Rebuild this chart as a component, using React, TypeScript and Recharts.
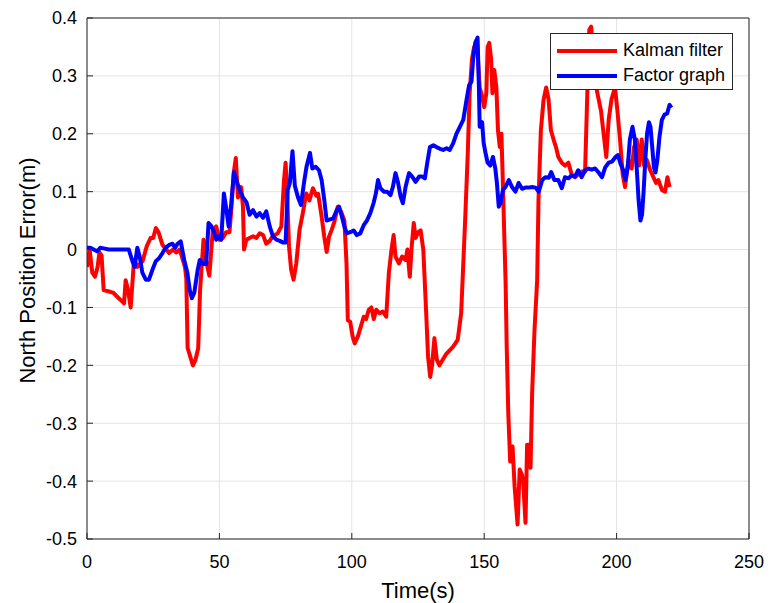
import React from "react"
import {
  LineChart,
  Line,
  XAxis,
  YAxis,
  CartesianGrid,
} from "recharts"

// Kalman filter north error, sampled off the plot (time in s, error in m)
const kalmanTime = [
  0, 1, 2, 3, 4, 4.7, 5.5, 6.3, 8, 10, 11.5, 12.7, 14, 14.6, 15.5, 16.5, 17.5, 17.8, 19, 21,
  22.5, 24, 25, 26, 27, 28.5, 30, 31, 32.5, 33.7, 35, 37, 37.5, 38, 39, 40, 41, 42, 42.7, 44,
  45, 46.2, 47.5, 48.8, 50, 51.3, 52.5, 53.8, 54.4, 55.4, 56.2, 57, 57.6, 58.2, 58.9, 59.3, 60.2, 61.4, 62.7, 64,
  65.2, 66.5, 67.7, 69, 70.2, 72, 73.4, 74.4, 75, 75.6, 76.3, 77.1, 78, 79, 80.3, 81.5, 82.8, 84, 85.3, 86.6,
  87.3, 88.6, 89.6, 90.5, 91.4, 92.4, 93.4, 94.7, 96, 97.2, 98, 98.5, 99.4, 100.3, 101.1, 102.3, 103.6, 104.5, 105.4, 106.4,
  107.4, 108.3, 109.2, 110.5, 111.7, 113, 114, 115, 115.8, 116.5, 117.8, 119, 120.3, 121, 121.9, 122.6, 123.4, 124.1, 125.1, 126,
  127, 128, 128.8, 129.6, 130.3, 131.2, 132.1, 133.1, 135.7, 138.2, 140, 141.3, 142.8, 143.8, 144.5, 145.4, 146.2, 147.3, 148.3, 149.2,
  150, 150.8, 151.3, 151.9, 152.6, 153.1, 153.8, 154.6, 155.2, 155.9, 156.5, 157.1, 157.6, 158.1, 158.5, 159.1, 159.8, 160.7, 161.5, 162.6,
  163.4, 164.3, 164.7, 165.6, 166.2, 166.8, 167.5, 168.1, 169, 170, 170.5, 171.4, 172.4, 173.4, 174.3, 175.2, 176.2, 177.1, 178, 179.3,
  180.5, 181.8, 183, 184.3, 185.5, 186.8, 188.1, 189, 189.7, 190.4, 191.3, 192.3, 193.2, 194.1, 195.1, 196.1, 197, 198.1, 199.4, 200.3,
  201.3, 202.3, 203.2, 204.5, 205.7, 206.6, 207.6, 208.5, 209.5, 210.4, 211.4, 212.7, 213.9, 214.9, 215.8, 217.1, 218.3, 219.2, 220,
]
const kalmanError = [
  -0.03, 0.0, -0.04, -0.047, -0.03, -0.005, -0.01, -0.07, -0.072, -0.075, -0.082, -0.087, -0.093, -0.053, -0.07, -0.1, -0.035, -0.018, -0.03, -0.02,
  0.005, 0.02, 0.02, 0.037, 0.03, 0.008, 0.0, -0.006, 0.0, -0.005, 0.0, -0.03, -0.05, -0.17, -0.185, -0.2, -0.19, -0.17, -0.07, 0.017,
  -0.02, -0.045, 0.033, 0.04, 0.017, 0.02, 0.03, 0.03, 0.063, 0.132, 0.158, 0.09, 0.1, 0.108, 0.074, 0.0, 0.017, 0.02, 0.023, 0.02,
  0.028, 0.025, 0.01, 0.015, 0.023, 0.028, 0.04, 0.12, 0.15, 0.09, 0.005, -0.035, -0.052, -0.025, 0.035, 0.063, 0.097, 0.085, 0.106, 0.093,
  0.096, 0.057, 0.022, -0.004, 0.022, 0.034, 0.048, 0.074, 0.065, 0.05, -0.024, -0.122, -0.125, -0.15, -0.162, -0.15, -0.13, -0.116, -0.12, -0.104,
  -0.1, -0.12, -0.104, -0.11, -0.107, -0.116, -0.04, 0.0, 0.025, -0.012, -0.024, -0.012, -0.018, 0.0, -0.047, 0.004, 0.046, 0.02, 0.03, 0.033,
  0.0, -0.1, -0.185, -0.22, -0.2, -0.153, -0.19, -0.2, -0.18, -0.168, -0.156, -0.11, 0.05, 0.167, 0.27, 0.33, 0.35, 0.355, 0.28, 0.265,
  0.246, 0.27, 0.35, 0.357, 0.33, 0.27, 0.31, 0.28, 0.206, 0.177, 0.2, 0.108, 0.022, -0.06, -0.168, -0.283, -0.366, -0.34, -0.41, -0.475,
  -0.38, -0.39, -0.4, -0.472, -0.337, -0.337, -0.377, -0.248, -0.139, -0.053, 0.085, 0.206, 0.258, 0.28, 0.26, 0.206, 0.19, 0.177, 0.16, 0.15,
  0.145, 0.15, 0.13, 0.125, 0.13, 0.135, 0.135, 0.28, 0.38, 0.385, 0.33, 0.28, 0.26, 0.24, 0.2, 0.16, 0.224, 0.26, 0.28, 0.24,
  0.19, 0.13, 0.108, 0.155, 0.14, 0.177, 0.19, 0.145, 0.19, 0.145, 0.155, 0.137, 0.125, 0.115, 0.12, 0.103, 0.1, 0.125, 0.108,
]

// Factor graph north error
const factorTime = [
  0, 1.3, 2.5, 3.8, 5, 6.3, 8.2, 10.7, 13.3, 15.8, 17, 18, 19, 19.9, 20.9, 22.2, 23.4, 24.7, 26, 27.2,
  28.5, 29.7, 31, 32.3, 33.3, 34.2, 35.4, 36.7, 37.9, 38.8, 39.6, 40.5, 41.8, 42.6, 43.8, 45, 45.9, 47, 48, 48.8,
  49.7, 50.7, 51.7, 52.6, 53.5, 54.5, 55.5, 56.4, 57.6, 58.9, 60.2, 61.4, 62.7, 64, 65.2, 66.5, 67.7, 69, 70.2, 71.5,
  72.8, 74.1, 75, 75.8, 76.6, 77.6, 78.5, 79.7, 80.8, 82.1, 82.9, 84.2, 85.1, 86.4, 87.6, 88.6, 89.6, 90.5, 91.8, 93,
  94.3, 95.2, 96.2, 97.2, 98.1, 99.4, 100.7, 101.9, 103.2, 104.5, 105.7, 107, 108.2, 109.1, 109.9, 110.8, 112.1, 113.3, 114.6, 115.5,
  116.5, 117.5, 118.4, 119.3, 120.3, 121.6, 122.8, 124.1, 125.4, 126.6, 127.6, 128.5, 129.5, 130.8, 132, 133.3, 134.5, 135.8, 137, 138.3,
  139.5, 140.8, 142.1, 143.3, 144.3, 145.2, 145.8, 146.6, 147.5, 148, 148.3, 149.2, 149.8, 150.5, 151.3, 152.3, 153.3, 154.2, 154.8, 155.5,
  156.1, 157.1, 158, 159.3, 160.5, 161.8, 163, 164.3, 165.5, 166.8, 168.1, 169.4, 170.6, 171.9, 173.1, 174.4, 175.3, 176.5, 178, 179.3,
  180.5, 181.8, 183, 184.3, 185.5, 186.8, 188.1, 189.4, 190.6, 191.9, 193.2, 194.5, 195.7, 197, 198.3, 199.6, 200.5, 201.5, 202.5, 203.3,
  204.2, 205, 206, 206.9, 207.7, 208.3, 209, 209.6, 210.2, 210.9, 211.5, 212.2, 212.8, 213.4, 214.1, 214.7, 215.4, 216.2, 217.1, 218.1,
  219.1, 220, 220.7,
]
const factorError = [
  0.003, 0.003, 0.0, -0.003, 0.003, 0.002, 0.0, 0.0, 0.0, 0.0, -0.018, -0.03, 0.003, -0.012, -0.04, -0.052, -0.052, -0.035, -0.02, -0.015,
  -0.006, 0.003, 0.008, 0.01, 0.003, 0.01, 0.014, -0.018, -0.04, -0.07, -0.084, -0.075, -0.035, -0.018, -0.025, -0.025, 0.046, 0.04, 0.03, 0.017,
  0.023, 0.017, 0.097, 0.07, 0.04, 0.08, 0.134, 0.12, 0.103, 0.09, 0.082, 0.06, 0.068, 0.057, 0.063, 0.055, 0.066, 0.04, 0.023, 0.017,
  0.015, 0.012, 0.012, 0.103, 0.115, 0.17, 0.11, 0.09, 0.077, 0.12, 0.143, 0.167, 0.14, 0.143, 0.137, 0.12, 0.086, 0.05, 0.052, 0.054,
  0.068, 0.074, 0.058, 0.04, 0.028, 0.03, 0.033, 0.025, 0.028, 0.042, 0.05, 0.063, 0.08, 0.097, 0.12, 0.106, 0.1, 0.1, 0.094, 0.108,
  0.132, 0.115, 0.092, 0.08, 0.108, 0.132, 0.126, 0.117, 0.126, 0.126, 0.123, 0.15, 0.177, 0.18, 0.177, 0.174, 0.172, 0.175, 0.172, 0.184,
  0.2, 0.212, 0.224, 0.258, 0.284, 0.29, 0.328, 0.357, 0.366, 0.28, 0.212, 0.22, 0.184, 0.167, 0.15, 0.145, 0.16, 0.14, 0.115, 0.074,
  0.08, 0.103, 0.108, 0.12, 0.108, 0.1, 0.115, 0.105, 0.107, 0.107, 0.108, 0.107, 0.1, 0.12, 0.125, 0.124, 0.134, 0.12, 0.12, 0.106,
  0.125, 0.123, 0.128, 0.126, 0.137, 0.125, 0.137, 0.14, 0.138, 0.14, 0.133, 0.125, 0.142, 0.15, 0.152, 0.16, 0.163, 0.148, 0.137, 0.12,
  0.142, 0.19, 0.212, 0.19, 0.133, 0.086, 0.05, 0.06, 0.1, 0.16, 0.2, 0.22, 0.212, 0.18, 0.142, 0.133, 0.155, 0.195, 0.224, 0.233,
  0.235, 0.25, 0.245,
]

const xTicks = [0, 50, 100, 150, 200, 250]
const yTicks = [-0.5, -0.4, -0.3, -0.2, -0.1, 0, 0.1, 0.2, 0.3, 0.4]

const FONT = "'Liberation Sans', Arial, sans-serif"
const AXIS_COLOR = "#262626"

const kalmanData = kalmanTime.map((t, i) => ({ t, v: kalmanError[i] }))
const factorData = factorTime.map((t, i) => ({ t, v: factorError[i] }))

const fmtY = (v: number) => (Math.abs(v) < 1e-9 ? "0" : String(Math.round(v * 10) / 10))

function LegendBox() {
  const items = [
    { name: "Kalman filter", color: "#ff0000" },
    { name: "Factor graph", color: "#0000ff" },
  ]
  return (
    <div
      style={{
        position: "absolute",
        left: 550,
        top: 33,
        width: 183,
        height: 57,
        border: `1px solid ${AXIS_COLOR}`,
        background: "#fff",
        fontFamily: FONT,
        fontSize: 18,
        color: "#000",
        boxSizing: "border-box",
        paddingTop: 4,
      }}
    >
      {items.map((it) => (
        <div key={it.name} style={{ display: "flex", alignItems: "center", height: 25 }}>
          <svg width={66} height={10} style={{ marginLeft: 6 }}>
            <line x1={0} y1={5} x2={60} y2={5} stroke={it.color} strokeWidth={4} />
          </svg>
          <span>{it.name}</span>
        </div>
      ))}
    </div>
  )
}

function YTitle({ viewBox }: any) {
  const cx = viewBox.x
  const cy = viewBox.y + viewBox.height / 2 - 8
  return (
    <text
      x={cx}
      y={cy}
      transform={`rotate(-90 ${cx} ${cy})`}
      textAnchor="middle"
      dominantBaseline="central"
      fontFamily={FONT}
      fontSize={22}
      fill="#000"
    >
      North Position Error(m)
    </text>
  )
}

function XTitle({ viewBox }: any) {
  const cx = viewBox.x + viewBox.width / 2
  return (
    <text
      x={cx}
      y={viewBox.y + 51}
      textAnchor="middle"
      dominantBaseline="central"
      fontFamily={FONT}
      fontSize={22}
      fill="#000"
    >
      Time(s)
    </text>
  )
}

export default function App() {
  const tickStyle = { fontSize: 18, fill: "#000", fontFamily: FONT }
  return (
    <div style={{ position: "relative", width: 772, height: 603, background: "#fff" }}>
      <style>{"body{margin:0}"}</style>
      <LineChart width={772} height={603} margin={{ top: 17, right: 22, bottom: 24, left: 27 }}>
        <CartesianGrid stroke="#e4e4e4" strokeWidth={1} />
        <XAxis
          type="number"
          dataKey="t"
          domain={[0, 250]}
          ticks={xTicks}
          allowDataOverflow
          height={40}
          tick={tickStyle}
          tickSize={-6}
          tickMargin={22}
          stroke={AXIS_COLOR}
          interval={0}
          label={<XTitle />}
        />
        <XAxis
          xAxisId="top"
          orientation="top"
          type="number"
          dataKey="t"
          domain={[0, 250]}
          ticks={xTicks}
          height={1}
          tick={false}
          tickSize={-6}
          stroke={AXIS_COLOR}
        />
        <YAxis
          type="number"
          domain={[-0.5, 0.4]}
          ticks={yTicks}
          allowDataOverflow
          width={60}
          tick={tickStyle}
          tickFormatter={fmtY}
          tickSize={-6}
          tickMargin={16}
          stroke={AXIS_COLOR}
          interval={0}
          label={<YTitle />}
        />
        <YAxis
          yAxisId="right"
          orientation="right"
          type="number"
          domain={[-0.5, 0.4]}
          ticks={yTicks}
          width={1}
          tick={false}
          tickSize={-6}
          stroke={AXIS_COLOR}
        />
        <Line
          data={kalmanData}
          dataKey="v"
          name="Kalman filter"
          type="linear"
          stroke="#ff0000"
          strokeWidth={4}
          strokeLinejoin="round"
          dot={false}
          isAnimationActive={false}
        />
        <Line
          data={factorData}
          dataKey="v"
          name="Factor graph"
          type="linear"
          stroke="#0000ff"
          strokeWidth={4}
          strokeLinejoin="round"
          dot={false}
          isAnimationActive={false}
        />
      </LineChart>
      <LegendBox />
    </div>
  )
}
